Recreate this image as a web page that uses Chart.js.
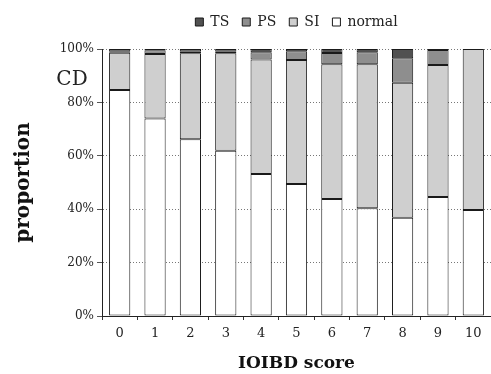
<!DOCTYPE html>
<html lang="en">
<head>
    <meta charset="UTF-8">
    <title>IOIBD score - CD</title>
    <script src="https://cdn.jsdelivr.net/npm/chart.js"></script>
    <style>
        html, body { margin: 0; padding: 0; background: #fff; }
        #wrap { width: 491px; height: 374px; }
    </style>
</head>
<body>
    <div id="wrap"><canvas id="cdChart" width="491" height="374"></canvas></div>

    <script>
        // IOIBD score categories
        const scores = ['0', '1', '2', '3', '4', '5', '6', '7', '8', '9', '10'];

        // proportions (%) per score
        const normalPct = [84.6, 74.0, 66.2, 61.9, 53.2, 49.4, 43.8, 40.4, 36.8, 44.6, 39.7];
        const siPct     = [14.0, 24.1, 32.2, 36.5, 42.9, 46.5, 50.5, 53.9, 50.6, 49.4, 60.3];
        const psPct     = [0.4, 1.4, 0.6, 0.6, 2.7, 3.3, 4.2, 4.5, 9.1, 5.6, 0];
        const tsPct     = [1.0, 0.5, 1.0, 1.0, 1.2, 0.8, 1.5, 1.2, 3.5, 0.4, 0];

        const yTicks = [0, 20, 40, 60, 80, 100];

        const serif = "'DejaVu Serif', 'Liberation Serif', serif";

        // "CD" label in the upper left corner
        const cdLabel = {
            id: 'cdLabel',
            afterDraw(chart) {
                const ctx = chart.ctx;
                ctx.save();
                ctx.fillStyle = '#222';
                ctx.font = "20px " + serif;
                ctx.textAlign = 'center';
                ctx.textBaseline = 'middle';
                ctx.fillText('CD', 72, 80);
                ctx.restore();
            }
        };

        // a little extra room under the legend
        const legendGap = {
            id: 'legendGap',
            afterInit(chart) {
                const lg = chart.legend;
                if (!lg) return;
                const fit = lg.fit;
                lg.fit = function() {
                    fit.call(this);
                    this.height += 10;
                };
            }
        };

        const ctx = document.getElementById('cdChart').getContext('2d');
        new Chart(ctx, {
            type: 'bar',
            data: {
                labels: scores,
                datasets: [
                    { label: 'normal', data: normalPct, backgroundColor: '#ffffff' },
                    { label: 'SI', data: siPct, backgroundColor: '#cfcfcf' },
                    { label: 'PS', data: psPct, backgroundColor: '#8e8e8e' },
                    { label: 'TS', data: tsPct, backgroundColor: '#515151' }
                ].map(d => Object.assign(d, {
                    borderColor: '#1a1a1a',
                    borderWidth: 1,
                    borderSkipped: false,
                    categoryPercentage: 1,
                    barPercentage: 0.6
                }))
            },
            plugins: [cdLabel, legendGap],
            options: {
                responsive: false,
                animation: false,
                layout: { padding: { top: 2, right: 0, bottom: 0, left: 0 } },
                plugins: {
                    legend: {
                        position: 'top',
                        fullSize: false,
                        reverse: true,
                        labels: {
                            boxWidth: 8,
                            boxHeight: 8,
                            padding: 13,
                            color: '#222',
                            font: { family: serif, size: 14 }
                        }
                    },
                    tooltip: { enabled: false }
                },
                scales: {
                    x: {
                        stacked: true,
                        afterFit: s => { s.height = 58; },
                        grid: {
                            offset: true,
                            drawOnChartArea: false,
                            drawTicks: true,
                            tickLength: 4,
                            color: '#333'
                        },
                        border: { color: '#222', width: 1 },
                        ticks: {
                            color: '#222',
                            padding: 6,
                            font: { family: serif, size: 13 }
                        },
                        title: {
                            display: true,
                            text: 'IOIBD score',
                            color: '#111',
                            padding: { top: 6, bottom: 0 },
                            font: { family: serif, size: 17, weight: 'bold' }
                        }
                    },
                    y: {
                        stacked: true,
                        min: 0,
                        max: 100,
                        afterFit: s => { s.width = 102; },
                        afterBuildTicks: s => { s.ticks = yTicks.map(v => ({ value: v })); },
                        grid: {
                            color: '#777',
                            tickLength: 5,
                            tickColor: '#555'
                        },
                        border: { color: '#222', width: 1, dash: [1, 2] },
                        ticks: {
                            color: '#222',
                            padding: 3,
                            font: { family: serif, size: 12 },
                            callback: v => v + '%'
                        },
                        title: {
                            display: true,
                            text: 'proportion',
                            color: '#111',
                            padding: { top: 12, bottom: 0 },
                            font: { family: serif, size: 20, weight: 'bold' }
                        }
                    }
                }
            }
        });
    </script>
</body>
</html>
